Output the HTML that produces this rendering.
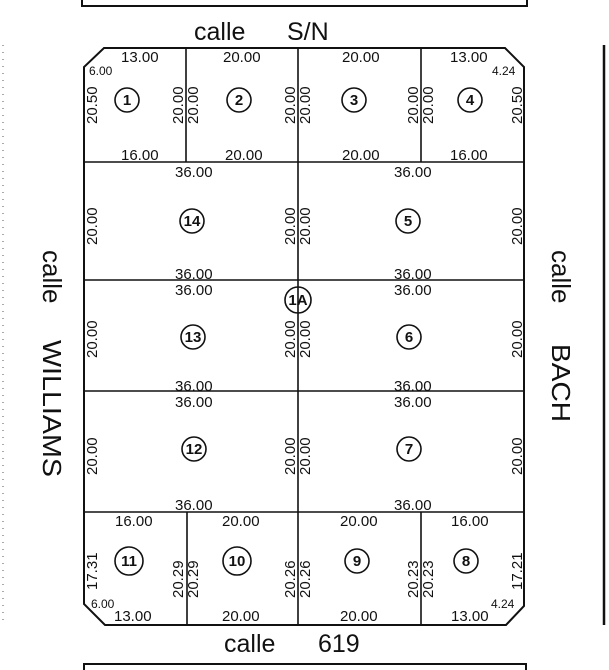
<!DOCTYPE html>
<html><head><meta charset="utf-8"><style>
html,body{margin:0;padding:0;background:#fff;}
svg{display:block;}
text{font-family:"Liberation Sans",Arial,sans-serif;fill:#111;}
.d{font-size:15px;}
.n{font-size:15px;font-weight:bold;text-anchor:middle;}
</style></head><body>
<svg width="609" height="670" viewBox="0 0 609 670" xmlns="http://www.w3.org/2000/svg">
<polyline points="82,0 82,6 527,6 527,0" fill="none" stroke="#111" stroke-width="2"/>
<polyline points="84,670 84,664 526,664 526,670" fill="none" stroke="#111" stroke-width="2"/>
<line x1="3" y1="45" x2="3" y2="625" stroke="#555" stroke-width="1" stroke-dasharray="1,6"/>
<line x1="604" y1="45" x2="604" y2="625" stroke="#111" stroke-width="2.5"/>
<polygon points="104,48 505,48 524,67 524,606 506,625 105,625 84,604 84,67" fill="none" stroke="#111" stroke-width="2"/>
<g stroke="#111" stroke-width="1.6">
<line x1="84" y1="162" x2="524" y2="162"/>
<line x1="84" y1="280" x2="524" y2="280"/>
<line x1="84" y1="391" x2="524" y2="391"/>
<line x1="84" y1="512" x2="524" y2="512"/>
<line x1="298" y1="48" x2="298" y2="625"/>
<line x1="186" y1="48" x2="186" y2="162"/>
<line x1="421" y1="48" x2="421" y2="162"/>
<line x1="187" y1="512" x2="187" y2="625"/>
<line x1="421" y1="512" x2="421" y2="625"/>
</g>
<text x="194" y="40" font-size="25">calle</text>
<text x="287" y="40" font-size="25">S/N</text>
<text x="224" y="652" font-size="25">calle</text>
<text x="318" y="652" font-size="25">619</text>
<text transform="translate(43,250) rotate(90)" font-size="26">calle</text>
<text transform="translate(43,340) rotate(90)" font-size="26" textLength="137" lengthAdjust="spacingAndGlyphs">WILLIAMS</text>
<text transform="translate(552,250) rotate(90)" font-size="26">calle</text>
<text transform="translate(552,344) rotate(90)" font-size="26" textLength="78" lengthAdjust="spacingAndGlyphs">BACH</text>
<g class="d">
<text x="121" y="62">13.00</text><text x="89" y="75" font-size="12">6.00</text>
<text x="223" y="62">20.00</text><text x="342" y="62">20.00</text><text x="450" y="62">13.00</text>
<text x="492" y="75" font-size="12">4.24</text>
<text x="121" y="160">16.00</text><text x="225" y="160">20.00</text><text x="342" y="160">20.00</text><text x="450" y="160">16.00</text>
<text transform="translate(97,124) rotate(-90)">20.50</text>
<text transform="translate(183,124) rotate(-90)">20.00</text>
<text transform="translate(198,124) rotate(-90)">20.00</text>
<text transform="translate(295,124) rotate(-90)">20.00</text>
<text transform="translate(310,124) rotate(-90)">20.00</text>
<text transform="translate(418,124) rotate(-90)">20.00</text>
<text transform="translate(433,124) rotate(-90)">20.00</text>
<text transform="translate(522,124) rotate(-90)">20.50</text>
<text x="175" y="177">36.00</text><text x="394" y="177">36.00</text>
<text x="175" y="279">36.00</text><text x="394" y="279">36.00</text>
<text x="175" y="295">36.00</text><text x="394" y="295">36.00</text>
<text x="175" y="391">36.00</text><text x="394" y="391">36.00</text>
<text x="175" y="407">36.00</text><text x="394" y="407">36.00</text>
<text x="175" y="510">36.00</text><text x="394" y="510">36.00</text>
<text transform="translate(97,245) rotate(-90)">20.00</text>
<text transform="translate(295,245) rotate(-90)">20.00</text>
<text transform="translate(310,245) rotate(-90)">20.00</text>
<text transform="translate(522,245) rotate(-90)">20.00</text>
<text transform="translate(97,358) rotate(-90)">20.00</text>
<text transform="translate(295,358) rotate(-90)">20.00</text>
<text transform="translate(310,358) rotate(-90)">20.00</text>
<text transform="translate(522,358) rotate(-90)">20.00</text>
<text transform="translate(97,475) rotate(-90)">20.00</text>
<text transform="translate(295,475) rotate(-90)">20.00</text>
<text transform="translate(310,475) rotate(-90)">20.00</text>
<text transform="translate(522,475) rotate(-90)">20.00</text>
<text x="115" y="526">16.00</text><text x="222" y="526">20.00</text><text x="340" y="526">20.00</text><text x="451" y="526">16.00</text>
<text x="114" y="621">13.00</text><text x="91" y="608" font-size="12">6.00</text>
<text x="222" y="621">20.00</text><text x="340" y="621">20.00</text><text x="451" y="621">13.00</text>
<text x="491" y="608" font-size="12">4.24</text>
<text transform="translate(97,590) rotate(-90)">17.31</text>
<text transform="translate(183,598) rotate(-90)">20.29</text>
<text transform="translate(198,598) rotate(-90)">20.29</text>
<text transform="translate(295,598) rotate(-90)">20.26</text>
<text transform="translate(310,598) rotate(-90)">20.26</text>
<text transform="translate(418,598) rotate(-90)">20.23</text>
<text transform="translate(433,598) rotate(-90)">20.23</text>
<text transform="translate(522,590) rotate(-90)">17.21</text>
</g>
<g fill="none" stroke="#111" stroke-width="1.6">
<circle cx="127" cy="100" r="12"/><circle cx="239" cy="100" r="12"/><circle cx="354" cy="100" r="12"/><circle cx="470" cy="100" r="12"/>
<circle cx="192" cy="221" r="12"/><circle cx="408" cy="221" r="12"/>
<circle cx="298" cy="300" r="13"/>
<circle cx="193" cy="337" r="12"/><circle cx="409" cy="337" r="12"/>
<circle cx="194" cy="449" r="12"/><circle cx="409" cy="449" r="12"/>
<circle cx="129" cy="561" r="14"/><circle cx="237" cy="561" r="14"/><circle cx="357" cy="561" r="12"/><circle cx="466" cy="561" r="12"/>
</g>
<g class="n">
<text x="127" y="105">1</text><text x="239" y="105">2</text><text x="354" y="105">3</text><text x="470" y="105">4</text>
<text x="192" y="226">14</text><text x="408" y="226">5</text>
<text x="298" y="305">1A</text>
<text x="193" y="342">13</text><text x="409" y="342">6</text>
<text x="194" y="454">12</text><text x="409" y="454">7</text>
<text x="129" y="566">11</text><text x="237" y="566">10</text><text x="357" y="566">9</text><text x="466" y="566">8</text>
</g>
</svg>
</body></html>
